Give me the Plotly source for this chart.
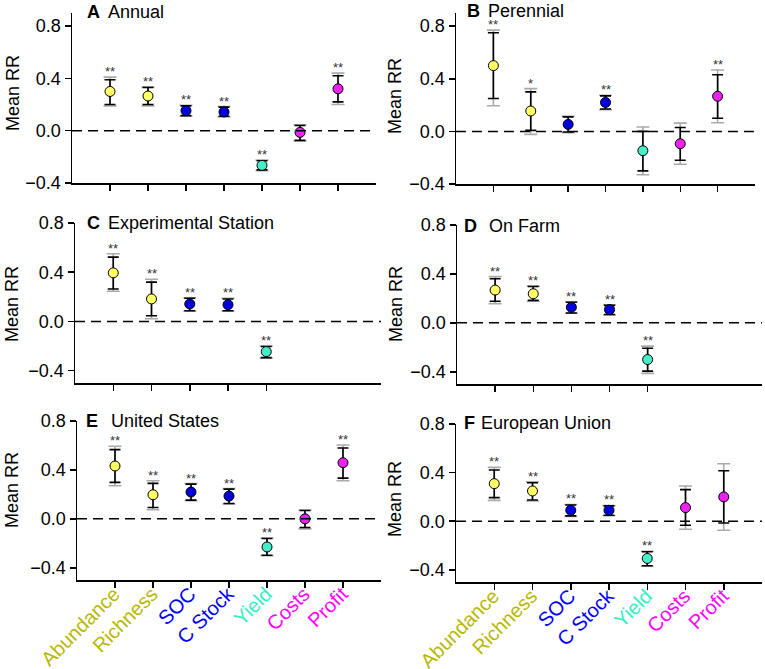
import plotly.graph_objects as go

W, H = 765, 669
FONT = "Liberation Sans, Arial, sans-serif"

categories = ["Abundance", "Richness", "SOC", "C Stock", "Yield", "Costs", "Profit"]
label_colors = ["#B8B800", "#B8B800", "#0000FF", "#0000FF", "#33EEC4", "#FF00FF", "#FF00FF"]
marker_colors = ["#FFFF66", "#FFFF66", "#0000DD", "#0000DD", "#44EEC8", "#EE22EE", "#EE22EE"]

# Panel A - Annual
a_mean = [0.30, 0.265, 0.153, 0.143, -0.265, -0.013, 0.32]
a_lo = [0.20, 0.20, 0.115, 0.11, -0.30, -0.074, 0.22]
a_hi = [0.39, 0.33, 0.19, 0.18, -0.23, 0.04, 0.42]
a_glo = [0.19, 0.19, 0.11, 0.105, -0.305, -0.078, 0.20]
a_ghi = [0.41, 0.335, 0.195, 0.185, -0.225, 0.045, 0.44]
a_star = ["**", "**", "**", "**", "**", "", "**"]

# Panel B - Perennial
b_mean = [0.50, 0.155, 0.053, 0.22, -0.147, -0.094, 0.267]
b_lo = [0.25, 0.008, -0.005, 0.17, -0.30, -0.22, 0.10]
b_hi = [0.75, 0.30, 0.11, 0.27, 0.0, 0.03, 0.43]
b_glo = [0.195, -0.023, -0.01, 0.165, -0.33, -0.25, 0.066]
b_ghi = [0.77, 0.325, 0.115, 0.275, 0.033, 0.063, 0.467]
b_star = ["**", "*", "", "**", "", "", "**"]

# Panel C - Experimental Station
c_mean = [0.395, 0.183, 0.142, 0.136, -0.245, None, None]
c_lo = [0.264, 0.046, 0.087, 0.087, -0.294, None, None]
c_hi = [0.523, 0.32, 0.188, 0.183, -0.204, None, None]
c_glo = [0.245, 0.022, 0.083, 0.083, -0.298, None, None]
c_ghi = [0.55, 0.343, 0.193, 0.188, -0.20, None, None]
c_star = ["**", "**", "**", "**", "**", "", ""]

# Panel D - On Farm
d_mean = [0.268, 0.238, 0.127, 0.108, -0.30, None, None]
d_lo = [0.176, 0.184, 0.081, 0.068, -0.395, None, None]
d_hi = [0.36, 0.297, 0.168, 0.143, -0.208, None, None]
d_glo = [0.157, 0.176, 0.078, 0.065, -0.413, None, None]
d_ghi = [0.378, 0.30, 0.172, 0.147, -0.19, None, None]
d_star = ["**", "**", "**", "**", "**", "", ""]

# Panel E - United States
e_mean = [0.432, 0.197, 0.219, 0.186, -0.23, 0.0, 0.459]
e_lo = [0.298, 0.093, 0.153, 0.126, -0.298, -0.071, 0.333]
e_hi = [0.566, 0.29, 0.284, 0.243, -0.161, 0.068, 0.579]
e_glo = [0.27, 0.074, 0.148, 0.121, -0.302, -0.082, 0.311]
e_ghi = [0.593, 0.311, 0.289, 0.248, -0.157, 0.072, 0.604]
e_star = ["**", "**", "**", "**", "**", "", "**"]

# Panel F - European Union
f_mean = [0.309, 0.249, 0.09, 0.09, -0.306, 0.112, 0.20]
f_lo = [0.194, 0.175, 0.044, 0.049, -0.366, -0.033, -0.014]
f_hi = [0.421, 0.317, 0.134, 0.126, -0.251, 0.26, 0.415]
f_glo = [0.172, 0.167, 0.04, 0.045, -0.37, -0.066, -0.074]
f_ghi = [0.443, 0.325, 0.138, 0.13, -0.247, 0.29, 0.473]
f_star = ["**", "**", "**", "**", "**", "", ""]

yticks = [-0.4, 0.0, 0.4, 0.8]

panels = [
    dict(letter="A", name="Annual", data=(a_mean, a_lo, a_hi, a_glo, a_ghi, a_star),
         px=(72, 376), py=(13, 183), yr=(-0.4, 0.9), ntick=7, labels=False,
         lx=85, nx=106, ty=11.5, my=93, mx=13),
    dict(letter="B", name="Perennial", data=(b_mean, b_lo, b_hi, b_glo, b_ghi, b_star),
         px=(456, 755), py=(13, 184), yr=(-0.4, 0.9), ntick=7, labels=False,
         lx=465, nx=486, ty=11, my=96, mx=395),
    dict(letter="C", name="Experimental Station", data=(c_mean, c_lo, c_hi, c_glo, c_ghi, c_star),
         px=(75, 381), py=(223, 383), yr=(-0.5, 0.8), ntick=5, labels=False,
         lx=85, nx=106, ty=223.5, my=304, mx=12),
    dict(letter="D", name="On Farm", data=(d_mean, d_lo, d_hi, d_glo, d_ghi, d_star),
         px=(457, 762), py=(225, 384), yr=(-0.5, 0.8), ntick=5, labels=False,
         lx=462, nx=487, ty=226, my=304, mx=396),
    dict(letter="E", name="United States", data=(e_mean, e_lo, e_hi, e_glo, e_ghi, e_star),
         px=(77, 381), py=(421, 580), yr=(-0.5, 0.8), ntick=7, labels=True,
         lx=84, nx=109, ty=421, my=490, mx=12),
    dict(letter="F", name="European Union", data=(f_mean, f_lo, f_hi, f_glo, f_ghi, f_star),
         px=(456, 762), py=(424, 582), yr=(-0.5, 0.8), ntick=7, labels=True,
         lx=462, nx=479, ty=423, my=499, mx=395),
]

fig = go.Figure()
xs = list(range(1, len(categories) + 1))
ticktext = [f'<span style="color:{c}">{t}</span>' for t, c in zip(categories, label_colors)]

for i, p in enumerate(panels):
    k = "" if i == 0 else str(i + 1)
    xa, ya = "x" + k, "y" + k
    mean, lo, hi, glo, ghi, star = p["data"]
    idx = [j for j, m in enumerate(mean) if m is not None]
    px_ = [xs[j] for j in idx]
    m_ = [mean[j] for j in idx]
    # gray interval
    fig.add_trace(go.Scatter(
        x=px_, y=m_, mode="markers", marker=dict(size=1, color="rgba(0,0,0,0)"),
        error_y=dict(type="data", symmetric=False,
                     array=[ghi[j] - mean[j] for j in idx],
                     arrayminus=[mean[j] - glo[j] for j in idx],
                     color="#AAAAAA", thickness=1.6, width=6.5),
        xaxis=xa, yaxis=ya, showlegend=False, hoverinfo="skip"))
    # black interval + points
    fig.add_trace(go.Scatter(
        x=px_, y=m_, mode="markers",
        marker=dict(size=10, color=[marker_colors[j] for j in idx],
                    line=dict(color="black", width=1)),
        error_y=dict(type="data", symmetric=False,
                     array=[hi[j] - mean[j] for j in idx],
                     arrayminus=[mean[j] - lo[j] for j in idx],
                     color="black", thickness=1.6, width=5.5),
        xaxis=xa, yaxis=ya, showlegend=False))
    # significance stars
    for j in idx:
        if star[j]:
            fig.add_annotation(x=xs[j], y=ghi[j], xref=xa, yref=ya, text=star[j],
                               showarrow=False, xanchor="center", yanchor="bottom",
                               yshift=-4, font=dict(size=13, color="#333333", family=FONT))

    x0, x1 = p["px"]
    y0, y1 = p["py"]
    fig.layout["xaxis" + k] = dict(
        domain=[x0 / W, x1 / W], range=[0, 8], anchor=ya, automargin=False,
        tickmode="array", tickvals=xs[:p["ntick"]],
        ticktext=ticktext[:p["ntick"]] if p["labels"] else [""] * p["ntick"],
        showticklabels=p["labels"], tickangle=-45,
        tickfont=dict(size=20, family=FONT),
        ticklabelstandoff=-13, ticklabelshift=-1,
        ticks="outside", ticklen=6, tickwidth=1.5, tickcolor="black",
        showline=True, linecolor="black", linewidth=1.5,
        showgrid=False, zeroline=False)
    fig.layout["yaxis" + k] = dict(
        domain=[1 - y1 / H, 1 - y0 / H], range=list(p["yr"]), anchor=xa, automargin=False,
        tickmode="array", tickvals=yticks, tickformat=".1f",
        tickfont=dict(size=18, family=FONT, color="black"),
        ticks="outside", ticklen=6, tickwidth=1.5, tickcolor="black",
        showline=True, linecolor="black", linewidth=1.5,
        showgrid=False, zeroline=False)
    fig.add_shape(type="line", xref=xa + " domain", yref=ya, x0=0, x1=1, y0=0, y1=0,
                  line=dict(color="black", width=1.5, dash="10px,6px"))
    fig.add_annotation(x=p["lx"] / W, y=1 - p["ty"] / H, xref="paper", yref="paper",
                       text=f"<b>{p['letter']}</b>", showarrow=False, xanchor="left",
                       yanchor="middle", font=dict(size=18, family=FONT, color="black"))
    fig.add_annotation(x=p["nx"] / W, y=1 - p["ty"] / H, xref="paper", yref="paper",
                       text=p["name"], showarrow=False, xanchor="left",
                       yanchor="middle", font=dict(size=18, family=FONT, color="black"))
    fig.add_annotation(x=p["mx"] / W, y=1 - p["my"] / H, xref="paper", yref="paper",
                       text="Mean RR", textangle=-90, showarrow=False,
                       xanchor="center", yanchor="middle",
                       font=dict(size=18, family=FONT, color="black"))

fig.update_layout(width=W, height=H, margin=dict(l=0, r=0, t=0, b=0, autoexpand=False),
                  paper_bgcolor="white", plot_bgcolor="white",
                  font=dict(family=FONT, color="black"))
fig.write_html("out.html", config={"displayModeBar": False, "staticPlot": True},
               post_script="document.body.style.margin='0';document.body.style.padding='0';")
